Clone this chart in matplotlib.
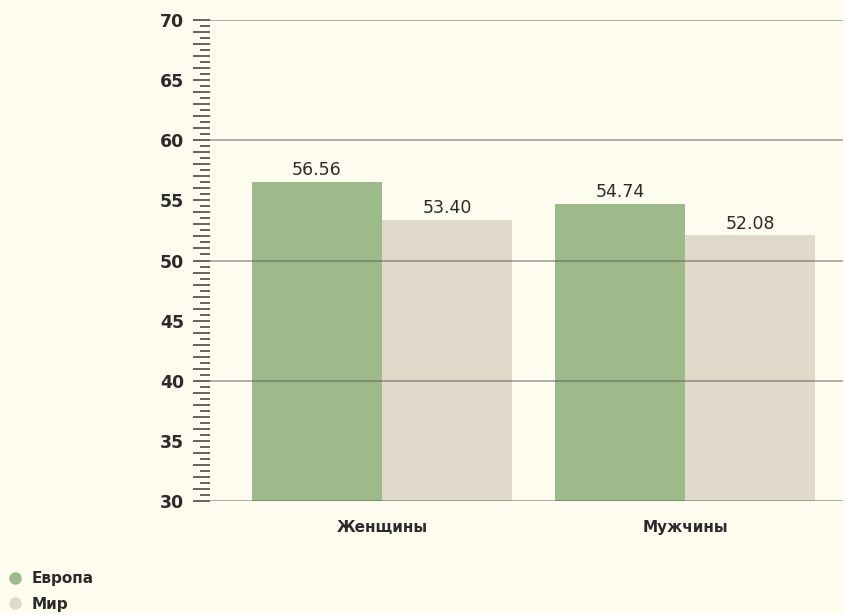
import matplotlib
matplotlib.use("Agg")
import matplotlib.pyplot as plt
from matplotlib.lines import Line2D
from matplotlib.ticker import MultipleLocator, FuncFormatter
import numpy as np

categories = ["Женщины", "Мужчины"]
series_names = ["Европа", "Мир"]
europe = [56.56, 54.74]
world = [53.40, 52.08]
colors = ["#9dbb8a", "#e0dacb"]

plt.rcParams['font.family'] = ['DejaVu Sans']
BG = "#fffdf0"
TXT = "#2b2b2b"
W, H = 844, 614
fig = plt.figure(figsize=(W / 100, H / 100), dpi=100, facecolor=BG)
ax = fig.add_axes([210 / W, 1 - 501 / H, (843 - 210) / W, (501 - 20) / H])
ax.set_facecolor(BG)

x = np.arange(len(categories))
bw = 0.43
ax.bar(x - bw / 2, [v - 30 for v in europe], bw, bottom=30, color=colors[0], zorder=2)
ax.bar(x + bw / 2, [v - 30 for v in world], bw, bottom=30, color=colors[1], zorder=2)

for xs, vals in ((x - bw / 2, europe), (x + bw / 2, world)):
    for xi, v in zip(xs, vals):
        ax.annotate(f"{v:.2f}", (xi, v), xytext=(0, 4.5), textcoords="offset points",
                    ha="center", va="baseline", fontsize=12.5, color=TXT)

ax.set_xlim(-0.568, 1 + 0.521)
ax.set_ylim(30, 70)
for g in (30, 40, 50, 60, 70):
    ax.axhline(g, color="#555555", alpha=0.55, lw=1.2, zorder=3)

ax.yaxis.set_major_locator(MultipleLocator(1))
ax.yaxis.set_minor_locator(MultipleLocator(0.5))
ax.yaxis.set_major_formatter(FuncFormatter(lambda v, p: f"{int(round(v))}" if round(v) % 5 == 0 else ""))
ax.tick_params(axis="y", which="major", length=12.5, width=1.2, color="#4a4a4a",
               labelsize=12.5, labelcolor=TXT, pad=6)
ax.tick_params(axis="y", which="minor", length=7.5, width=1.2, color="#4a4a4a")
for lbl in ax.get_yticklabels():
    lbl.set_fontweight("bold")

ax.set_xticks(x)
ax.set_xticklabels(categories, fontsize=11, fontweight="bold", color=TXT)
ax.tick_params(axis="x", length=0, pad=14)

for s in ax.spines.values():
    s.set_visible(False)

handles = [Line2D([], [], marker="o", linestyle="none", markersize=8,
                  markerfacecolor=c, markeredgecolor=c) for c in colors]
leg = fig.legend(handles, series_names, loc="upper left", bbox_to_anchor=(0.0, 1 - 565 / H),
                 frameon=False, handletextpad=0.5, labelspacing=0.7, handlelength=1.2,
                 borderaxespad=0.0, prop={"size": 11, "weight": "bold"})
for t in leg.get_texts():
    t.set_color(TXT)

fig.savefig("out.png", dpi=100, facecolor=BG)
